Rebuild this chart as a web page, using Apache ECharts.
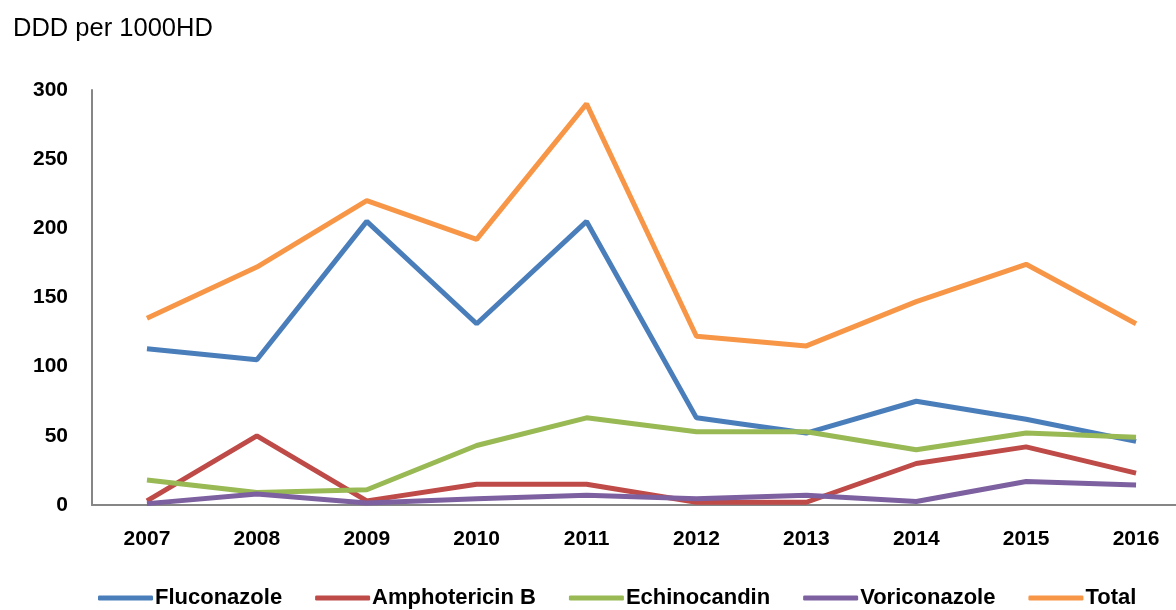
<!DOCTYPE html>
<html><head><meta charset="utf-8">
<script src="https://cdn.jsdelivr.net/npm/echarts@6/dist/echarts.min.js"></script>
<style>html,body{margin:0;padding:0;background:#fff}#c{width:1176px;height:610px}</style>
</head><body><div id="c"></div>
<script>
const years = ['2007','2008','2009','2010','2011','2012','2013','2014','2015','2016'];
const fluconazole   = [113, 105, 205, 131, 205, 63, 52, 75, 62, 46];
const amphotericinB = [3, 50, 3, 15, 15, 2, 2, 30, 42, 23];
const echinocandin  = [18, 9, 11, 43, 63, 53, 53, 40, 52, 49];
const voriconazole  = [1, 8, 1.5, 4.5, 7, 4.5, 7, 2.5, 17, 14.5];
const total         = [135, 172, 220, 192, 290, 122, 115, 147, 174, 131];
const seriesNames = ['Fluconazole','Amphotericin B','Echinocandin','Voriconazole','Total'];
const seriesData = [fluconazole, amphotericinB, echinocandin, voriconazole, total];
const colors = ['#4a7ebb','#be4b48','#98b954','#7d60a0','#f79646'];
const yTicks = {min:0, max:300, interval:50};

const chart = echarts.init(document.getElementById('c'));
chart.setOption({
  animation:false,
  color: colors,
  title:{text:'DDD per 1000HD', left:8, top:11, textStyle:{fontFamily:'Liberation Sans', fontWeight:'normal', fontSize:25.5, color:'#000'}},
  grid:{left:92, top:90, height:415, width:1099, containLabel:false, outerBoundsMode:'none'},
  legend:{top:582, left:93, itemWidth:55, itemHeight:5, itemGap:33, icon:'roundRect',
    textStyle:{fontFamily:'Liberation Sans', fontWeight:'bold', fontSize:22, color:'#000', padding:[0,0,0,-3]},
    data: seriesNames},
  xAxis:{type:'category', data:years, boundaryGap:true,
    axisLine:{lineStyle:{color:'#868686', width:2}}, axisTick:{show:false},
    axisLabel:{fontFamily:'Liberation Sans', fontWeight:'bold', fontSize:21, color:'#000', margin:24}},
  yAxis:{type:'value', min:yTicks.min, max:yTicks.max, interval:yTicks.interval,
    axisLine:{show:true, lineStyle:{color:'#868686', width:2}}, axisTick:{show:false}, splitLine:{show:false},
    axisLabel:{fontFamily:'Liberation Sans', fontWeight:'bold', fontSize:21, color:'#000', margin:24}},
  series: seriesNames.map((n,i)=>({name:n, type:'line', data:seriesData[i], symbol:'none',
    lineStyle:{width:5, color:colors[i]}, itemStyle:{color:colors[i]}}))
});
</script></body></html>
